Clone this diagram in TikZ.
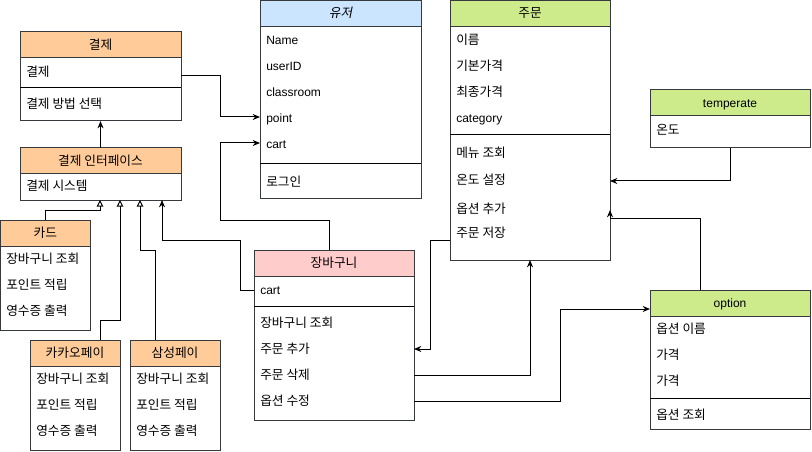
\documentclass[tikz,border=0pt]{standalone}
\usepackage{fontspec}
\setmainfont{Liberation Sans}
\newfontfamily\kr{Noto Sans CJK KR}[Scale=1.06]
\newfontfamily\kri{Noto Sans CJK KR}[Scale=1.06,FakeSlant=0.2]
\usetikzlibrary{arrows.meta}
\definecolor{bd}{HTML}{36393D}
\definecolor{orng}{HTML}{FFCC99}
\definecolor{blu}{HTML}{CCE5FF}
\definecolor{pnk}{HTML}{FFCCCC}
\definecolor{grn}{HTML}{CDEB8B}
\newcommand\umlbox[7]{%
  \node[cls, minimum width=#4*0.75pt, minimum height=#5*0.75pt, anchor=north west] (#1) at (#2,#3) {};
  \node[hdr, fill=#6, minimum width=#4*0.75pt, minimum height=26*0.75pt, anchor=north west] (#1h) at (#2,#3) {#7};
}
\begin{document}
\begin{tikzpicture}[x=0.75pt,y=-0.75pt,
  font=\fontsize{9pt}{11pt}\selectfont,
  cls/.style={draw=bd, line width=0.75pt, fill=white, outer sep=0pt, inner sep=0pt},
  hdr/.style={draw=bd, line width=0.75pt, outer sep=0pt, inner sep=0pt, text=black, text height=8.5pt, text depth=2pt},
  rowt/.style={anchor=west, inner sep=0pt, text height=8.5pt, text depth=2pt},
  ln/.style={draw=black, line width=0.75pt},
  arr/.style={ln, -{Stealth[length=5.5pt,width=4.5pt]}},
  inh/.style={ln, -{Triangle[open,length=5pt,width=5pt]}}
]
\useasboundingbox (0,0) rectangle (812,452);

% 결제
\umlbox{gj}{20}{32}{161}{89}{orng}{\kr 결제}
\draw[ln] (gj.west |- 0,88) -- (gj.east |- 0,88);
\node[rowt] (gjr1) at (26,72) {\kr 결제};
\node[rowt] (gjr2) at (26,104) {\kr 결제 방법 선택};

% 결제 인터페이스
\umlbox{gif}{20}{148}{161}{52}{orng}{\kr 결제 인터페이스}
\node[rowt] (gifr1) at (26,186) {\kr 결제 시스템};

% 카드
\umlbox{card}{0.5}{220}{89.5}{110}{orng}{\kr 카드}
\node[rowt] (cardr1) at (6,259) {\kr 장바구니 조회};
\node[rowt] (cardr2) at (6,285) {\kr 포인트 적립};
\node[rowt] (cardr3) at (6,311) {\kr 영수증 출력};

% 카카오페이
\umlbox{kakao}{30}{340}{90}{110}{orng}{\kr 카카오페이}
\node[rowt] (kakaor1) at (36,379) {\kr 장바구니 조회};
\node[rowt] (kakaor2) at (36,405) {\kr 포인트 적립};
\node[rowt] (kakaor3) at (36,431) {\kr 영수증 출력};

% 삼성페이
\umlbox{sam}{130}{340}{90}{110}{orng}{\kr 삼성페이}
\node[rowt] (samr1) at (136,379) {\kr 장바구니 조회};
\node[rowt] (samr2) at (136,405) {\kr 포인트 적립};
\node[rowt] (samr3) at (136,431) {\kr 영수증 출력};

% 유저
\umlbox{u}{260}{0.5}{161}{197.5}{blu}{\kri 유저}
\draw[ln] (u.west |- 0,164) -- (u.east |- 0,164);
\node[rowt] (ur1) at (266,40) {Name};
\node[rowt] (ur2) at (266,66) {userID};
\node[rowt] (ur3) at (266,92) {classroom};
\node[rowt] (upoint) at (266,118) {point};
\node[rowt] (ucart) at (266,144) {cart};
\node[rowt] (ulogin) at (266,182) {\kr 로그인};

% 장바구니
\umlbox{jb}{254}{250}{160}{170}{pnk}{\kr 장바구니}
\draw[ln] (jb.west |- 0,306) -- (jb.east |- 0,306);
\node[rowt] (jbcart) at (260,290) {cart};
\node[rowt] (jbr1) at (260,323) {\kr 장바구니 조회};
\node[rowt] (jbr2) at (260,349) {\kr 주문 추가};
\node[rowt] (jbr3) at (260,375) {\kr 주문 삭제};
\node[rowt] (jbr4) at (260,401) {\kr 옵션 수정};

% 주문
\umlbox{o}{450}{0.5}{160}{259.5}{grn}{\kr 주문}
\draw[ln] (o.west |- 0,135) -- (o.east |- 0,135);
\node[rowt] (or1) at (456,40) {\kr 이름};
\node[rowt] (or2) at (456,66) {\kr 기본가격};
\node[rowt] (or3) at (456,92) {\kr 최종가격};
\node[rowt] (or4) at (456,118) {category};
\node[rowt] (or5) at (456,153) {\kr 메뉴 조회};
\node[rowt] (or6) at (456,180) {\kr 온도 설정};
\node[rowt] (or7) at (456,209) {\kr 옵션 추가};
\node[rowt] (or8) at (456,233) {\kr 주문 저장};

% temperate
\umlbox{tp}{650}{90}{160}{58}{grn}{temperate}
\node[rowt] (tpr1) at (656,130) {\kr 온도};

% option
\umlbox{op}{650}{290}{160}{139}{grn}{option}
\draw[ln] (op.west |- 0,398) -- (op.east |- 0,398);
\node[rowt] (opr1) at (656,329) {\kr 옵션 이름};
\node[rowt] (opr2) at (656,355) {\kr 가격};
\node[rowt] (opr3) at (656,381) {\kr 가격};
\node[rowt] (opr4) at (656,415) {\kr 옵션 조회};

% connectors
\draw[arr] (gifh.north) -- (gj.south);
\draw[arr] (gj.east |- 0,76) -| (220,117) -- (u.west |- 0,117);
\draw[arr] (329,0 |- jbh.north) |- (220,220) |- (u.west |- 0,143);
\draw[inh] (cardh.north) |- (100,210) -- (100,0 |- gif.south);
\draw[inh] (100,0 |- kakaoh.north) |- (120,320) -- (120,0 |- gif.south);
\draw[inh] (155,0 |- samh.north) |- (140,250) -- (140,0 |- gif.south);
\draw[arr] (jb.west |- 0,290) -| (240,240) -| (162,0 |- gif.south);
\draw[arr] (o.west |- 0,240) -| (430,349) -- (jb.east |- 0,349);
\draw[arr] (jb.east |- 0,375) -| (530,0 |- o.south);
\draw[arr] (jb.east |- 0,401) -| (560,309) -- (op.west |- 0,309);
\draw[arr] (tp.south) |- (o.east |- 0,181);
\draw[arr] (700,0 |- oph.north) |- (o.east |- 0,218) -- (o.east |- 0,210);
\end{tikzpicture}
\end{document}
